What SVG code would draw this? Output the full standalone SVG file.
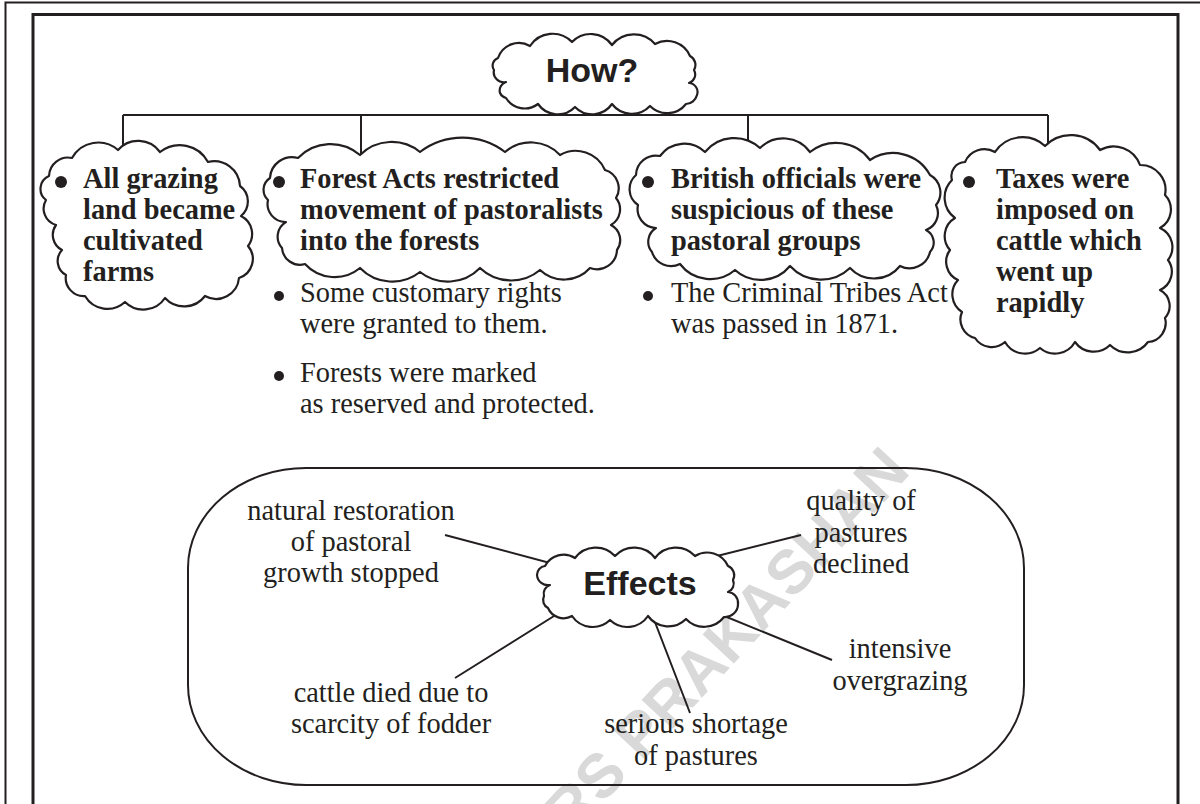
<svg xmlns="http://www.w3.org/2000/svg" width="1200" height="804" viewBox="0 0 1200 804">
<style>
.frame{fill:none;stroke:#231f20}
.cloud{fill:#fff;stroke:#231f20;stroke-width:2.2;stroke-linejoin:round}
.conn{fill:none;stroke:#231f20;stroke-width:2}
.head{font-family:"Liberation Sans",Arial,sans-serif;font-weight:bold;font-size:34px;fill:#231f20}
.bt{font-family:"Liberation Serif","Times New Roman",serif;font-weight:bold;font-size:28.4px;fill:#231f20}
.rt{font-family:"Liberation Serif","Times New Roman",serif;font-size:28.4px;fill:#231f20}
.mid{text-anchor:middle}
.dot{fill:#231f20}
.wm{font-family:"Liberation Sans",Arial,sans-serif;font-weight:bold;font-size:62px;fill:#d9d9d9}
</style>
<rect width="1200" height="804" fill="#fff"/>
<path class="frame" stroke-width="2" d="M5.5,804 V2.5 H1200"/>
<path class="frame" stroke-width="3" d="M33,804 V14.5 H1178 V804"/>
<text class="wm" transform="translate(543,868) rotate(-47)">ERS PRAKASHAN</text>

<g id="how">
<path class="cloud" d="M498,58 A22,22 0 0 1 530,46 A27,27 0 0 1 572,42 A26,26 0 0 1 612,45 A28,28 0 0 1 655,44 A25,25 0 0 1 690,56 A10,10 0 0 1 694,70 A9,9 0 0 1 689,83 A9,9 0 0 1 697,95 A12,12 0 0 1 686,104 A24,24 0 0 1 650,106 A25,25 0 0 1 612,104 A24,24 0 0 1 575,107 A24,24 0 0 1 538,104 A22,22 0 0 1 506,98 A9,9 0 0 1 500,93 A9,9 0 0 1 506,82 A10,10 0 0 1 494,70 A8,8 0 0 1 498,58 Z"/>
<text class="head mid" x="592" y="82">How?</text>
</g>

<g id="connectors">
<path class="conn" d="M123,115 H1048 M123,115 V170 M361,115 V170 M748,115 V170 M1048,115 V170"/>
<path class="conn" d="M445,535 L565,567 M455,678 L570,606 M801,535 L705,559 M832,660 L712,611 M690,713 L653,617"/>
</g>

<g id="c1">
<path class="cloud" d="M49,176 A19,19 0 0 1 72,158 A30,30 0 0 1 118,150 A27,27 0 0 1 160,152 A32,32 0 0 1 208,162 A26,26 0 0 1 240,186 A19,19 0 0 1 241,216 A20,20 0 0 1 248,246 A20,20 0 0 1 239,278 A23,23 0 0 1 205,296 A26,26 0 0 1 165,298 A26,26 0 0 1 125,302 A26,26 0 0 1 85,296 A18,18 0 0 1 66,275 A16,16 0 0 1 62,250 A17,17 0 0 1 56,225 A17,17 0 0 1 46,200 A14,14 0 0 1 49,176 Z"/>
<circle class="dot" cx="61" cy="182" r="6"/>
<text class="bt" x="83" y="188">All grazing</text>
<text class="bt" x="83" y="219">land became</text>
<text class="bt" x="83" y="250">cultivated</text>
<text class="bt" x="83" y="281">farms</text>
</g>

<g id="c2">
<path class="cloud" d="M270,178 A22,22 0 0 1 298,158 A45,45 0 0 1 360,155 A45,45 0 0 1 420,152 A70,70 0 0 1 505,152 A40,40 0 0 1 560,155 A32,32 0 0 1 605,170 A19,19 0 0 1 616,198 A18,18 0 0 1 611,225 A17,17 0 0 1 617,250 A20,20 0 0 1 590,268 A35,35 0 0 1 540,270 A45,45 0 0 1 480,268 A45,45 0 0 1 420,272 A45,45 0 0 1 360,268 A40,40 0 0 1 305,264 A18,18 0 0 1 282,248 A17,17 0 0 1 286,222 A18,18 0 0 1 268,200 A14,14 0 0 1 270,178 Z"/>
<circle class="dot" cx="279" cy="182" r="6"/>
<text class="bt" x="300" y="188">Forest Acts restricted</text>
<text class="bt" x="300" y="219">movement of pastoralists</text>
<text class="bt" x="300" y="250">into the forests</text>
</g>

<g id="c2notes">
<circle class="dot" cx="279" cy="296" r="5"/>
<text class="rt" x="300" y="302">Some customary rights</text>
<text class="rt" x="300" y="333">were granted to them.</text>
<circle class="dot" cx="279" cy="376" r="5"/>
<text class="rt" x="300" y="382">Forests were marked</text>
<text class="rt" x="300" y="413">as reserved and protected.</text>
</g>

<g id="c3">
<path class="cloud" d="M636,175 A20,20 0 0 1 660,156 A30,30 0 0 1 705,152 A38,38 0 0 1 760,148 A33,33 0 0 1 810,152 A42,42 0 0 1 870,160 A42,42 0 0 1 930,175 A20,20 0 0 1 936,205 A18,18 0 0 1 926,230 A14,14 0 0 1 930,252 A21,21 0 0 1 900,266 A33,33 0 0 1 850,268 A42,42 0 0 1 790,266 A38,38 0 0 1 735,270 A38,38 0 0 1 680,264 A20,20 0 0 1 652,252 A16,16 0 0 1 656,228 A19,19 0 0 1 638,205 A19,19 0 0 1 636,175 Z"/>
<circle class="dot" cx="648" cy="182" r="6"/>
<text class="bt" x="671" y="188">British officials were</text>
<text class="bt" x="671" y="219">suspicious of these</text>
<text class="bt" x="671" y="250">pastoral groups</text>
</g>

<g id="c3notes">
<circle class="dot" cx="648" cy="296" r="5"/>
<text class="rt" x="671" y="302">The Criminal Tribes Act</text>
<text class="rt" x="671" y="333">was passed in 1871.</text>
</g>

<g id="c4">
<path class="cloud" d="M952,180 A14,14 0 0 1 965,162 A21,21 0 0 1 995,152 A33,33 0 0 1 1045,146 A36,36 0 0 1 1100,150 A28,28 0 0 1 1140,165 A25,25 0 0 1 1165,195 A21,21 0 0 1 1160,228 A21,21 0 0 1 1168,260 A20,20 0 0 1 1160,290 A18,18 0 0 1 1165,318 A19,19 0 0 1 1148,342 A25,25 0 0 1 1110,345 A23,23 0 0 1 1075,342 A23,23 0 0 1 1040,348 A23,23 0 0 1 1005,342 A20,20 0 0 1 975,338 A19,19 0 0 1 962,312 A21,21 0 0 1 958,280 A20,20 0 0 1 950,250 A21,21 0 0 1 955,218 A25,25 0 0 1 952,180 Z"/>
<circle class="dot" cx="969" cy="182" r="6"/>
<text class="bt" x="996" y="188">Taxes were</text>
<text class="bt" x="996" y="219">imposed on</text>
<text class="bt" x="996" y="250">cattle which</text>
<text class="bt" x="996" y="281">went up</text>
<text class="bt" x="996" y="312">rapidly</text>
</g>

<g id="effects-box">
<rect x="188" y="468" width="836" height="317" rx="118" ry="100" fill="none" stroke="#231f20" stroke-width="2"/>
</g>

<g id="effects">
<path class="cloud" d="M545,566 A21,21 0 0 1 575,558 A26,26 0 0 1 615,556 A26,26 0 0 1 655,558 A26,26 0 0 1 695,556 A23,23 0 0 1 728,566 A10,10 0 0 1 733,580 A9,9 0 0 1 728,592 A11,11 0 0 1 738,604 A13,13 0 0 1 724,617 A25,25 0 0 1 686,619 A25,25 0 0 1 648,616 A25,25 0 0 1 610,620 A25,25 0 0 1 572,616 A17,17 0 0 1 548,608 A9,9 0 0 1 544,596 A9,9 0 0 1 550,585 A11,11 0 0 1 537,575 A9,9 0 0 1 545,566 Z"/>
<text class="head mid" x="640" y="595">Effects</text>
</g>

<g id="e1">
<text class="rt mid" x="351" y="520">natural restoration</text>
<text class="rt mid" x="351" y="551">of pastoral</text>
<text class="rt mid" x="351" y="582">growth stopped</text>
</g>
<g id="e2">
<text class="rt mid" x="391" y="702">cattle died due to</text>
<text class="rt mid" x="391" y="733">scarcity of fodder</text>
</g>
<g id="e3">
<text class="rt mid" x="861" y="510">quality of</text>
<text class="rt mid" x="861" y="542">pastures</text>
<text class="rt mid" x="861" y="573">declined</text>
</g>
<g id="e4">
<text class="rt mid" x="900" y="658">intensive</text>
<text class="rt mid" x="900" y="690">overgrazing</text>
</g>
<g id="e5">
<text class="rt mid" x="696" y="733">serious shortage</text>
<text class="rt mid" x="696" y="765">of pastures</text>
</g>
</svg>
